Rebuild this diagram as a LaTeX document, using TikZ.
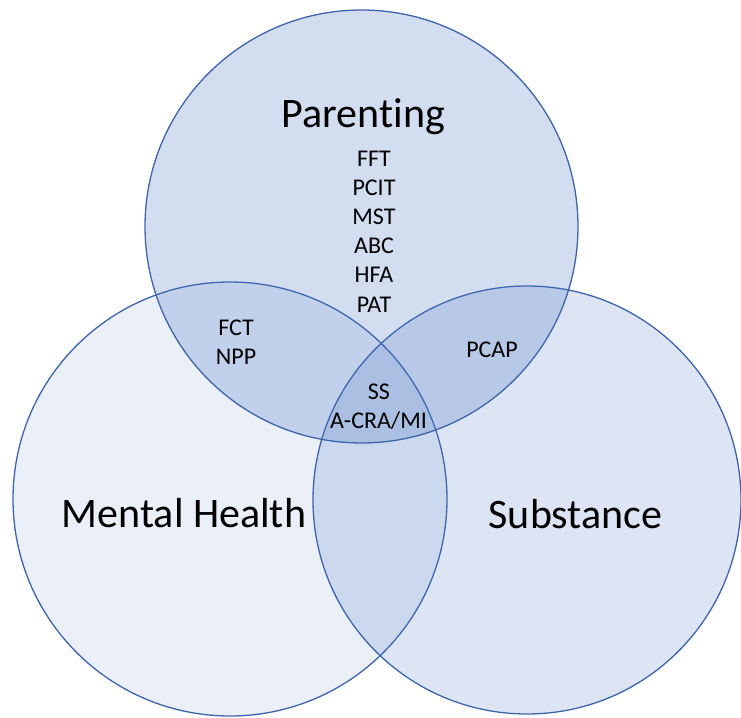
\documentclass[tikz,border=0pt]{standalone}
\usepackage{fontspec}
\setmainfont[Ligatures={NoCommon}]{Carlito}
\definecolor{acc}{RGB}{68,114,196}
\definecolor{edge}{RGB}{62,100,170}
\begin{document}
\begin{tikzpicture}[x=1pt,y=-1pt,
  venn/.style={draw=edge, line width=1.3pt, fill=acc},
  big/.style={font=\fontsize{42}{50}\selectfont, anchor=base},
  small/.style={font=\fontsize{24}{29}\selectfont, anchor=base}]
\useasboundingbox (0,0) rectangle (741,717);
\fill[white] (0,0) rectangle (741,717);
\path[venn, fill opacity=0.11] (230,499) circle (217);
\path[venn, fill opacity=0.18] (527,500) circle (214);
\path[venn, fill opacity=0.24] (361.5,226.5) circle (216.5);
\node[big] (par) at (363.5,127) {Paren\kern0pt ting};
\node[big] (mh) at (184,527) {Mental Health};
\node[big] (sub) at (575.5,528) {Substance};
\node[small] (fft) at (374,166) {FFT};
\node[small] (pcit) at (374,195.2) {PCIT};
\node[small] (mst) at (374,224.4) {MST};
\node[small] (abc) at (374,253.6) {ABC};
\node[small] (hfa) at (374,282.8) {HFA};
\node[small] (pat) at (374,312) {PAT};
\node[small] (fct) at (236,335) {FCT};
\node[small] (npp) at (236,364) {NPP};
\node[small] (pcap) at (492,357) {PCAP};
\node[small] (ss) at (379,399) {SS};
\node[small] (acra) at (378.5,428) {A-CRA/MI};
\end{tikzpicture}
\end{document}
